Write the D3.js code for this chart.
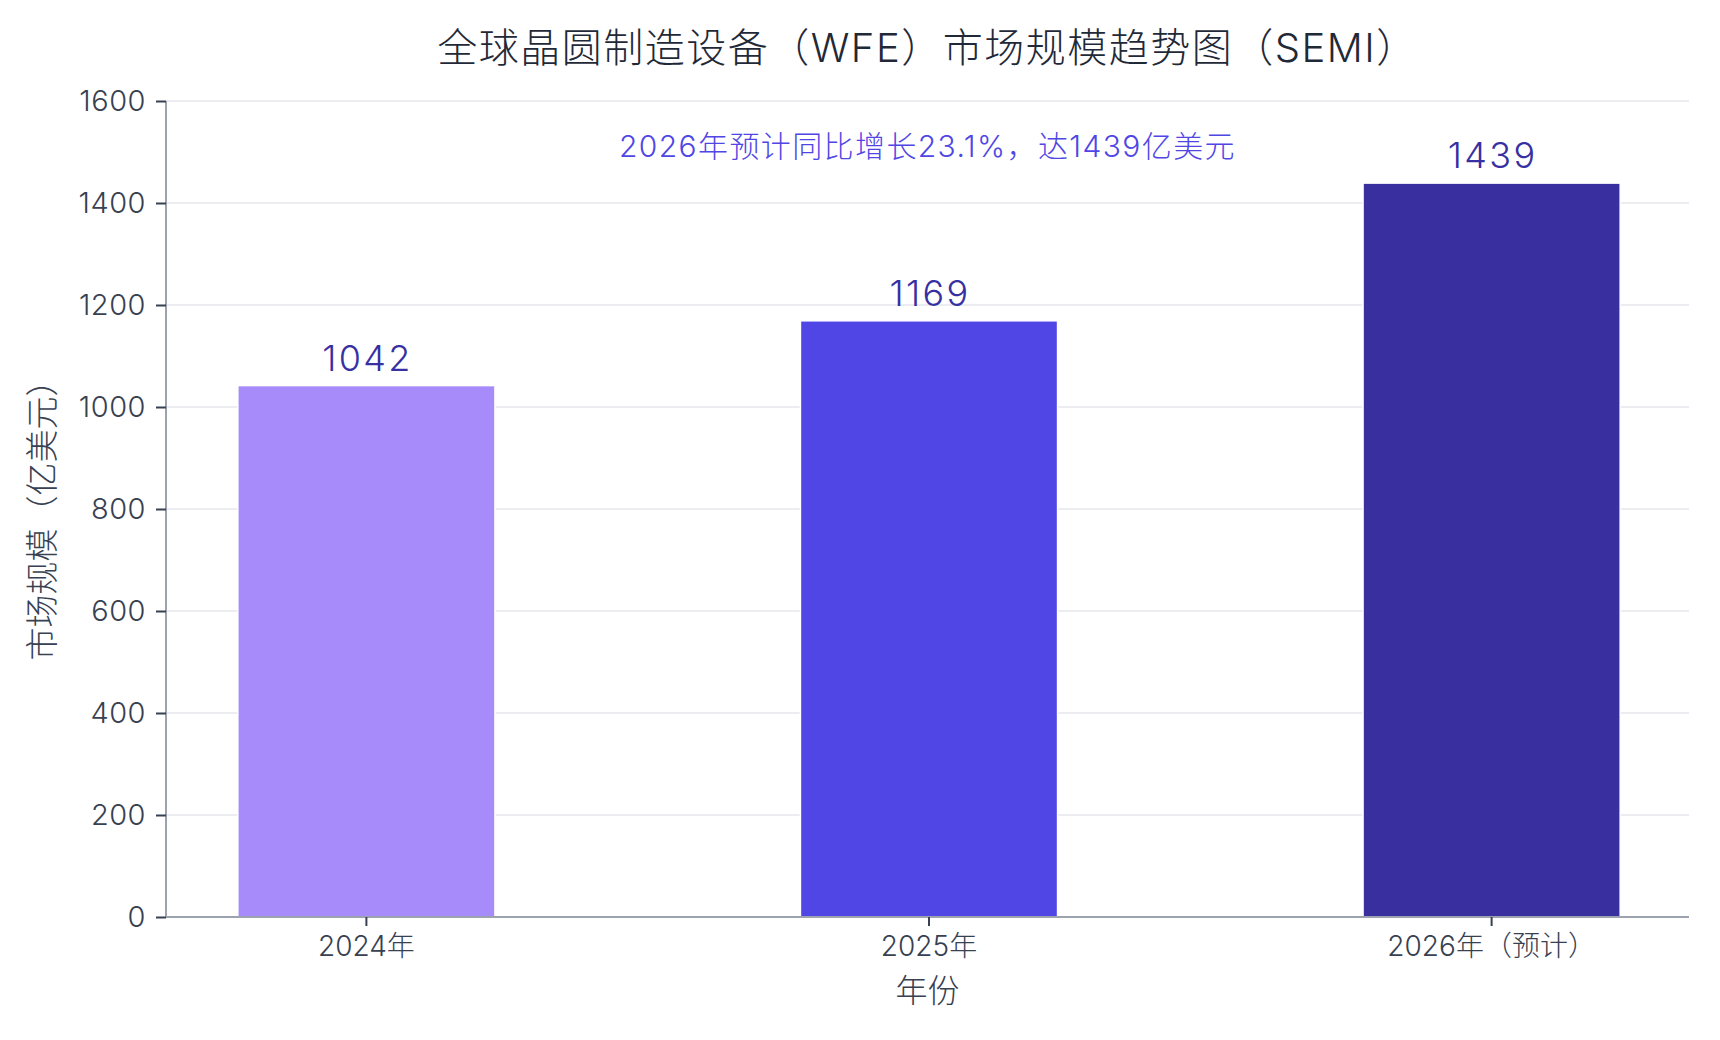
<!DOCTYPE html>
<html>
<head>
<meta charset="utf-8">
<script src="https://cdn.jsdelivr.net/npm/d3@7"></script>
<style>
  body { margin: 0; background: #fff; }
  svg text { font-family: "Inter", "Noto Sans CJK SC", sans-serif; font-weight: 300; }
</style>
</head>
<body>
<div id="chart"></div>
<script>
// data
const years = ['2024年', '2025年', '2026年（预计）'];
const values = [1042, 1169, 1439];
const barColors = ['#a78bfa', '#4f46e5', '#3a2f9e'];
const yTicks = [0, 200, 400, 600, 800, 1000, 1200, 1400, 1600];

const titleText = '全球晶圆制造设备（WFE）市场规模趋势图（SEMI）';
const noteText = '2026年预计同比增长23.1%，达1439亿美元';
const xTitle = '年份';
const yTitle = '市场规模（亿美元）';

const w = 1720;
const h = 1040;
const m = { top: 101, right: 31, bottom: 123, left: 166 };

const svg = d3.select('#chart').append('svg').attr('width', w).attr('height', h);

const x = d3.scaleBand().domain(years).range([m.left + 1.5, w - m.right + 1.5])
    .paddingInner(0.543).paddingOuter(0.125);
const y = d3.scaleLinear().domain([0, 1600]).range([h - m.bottom, m.top]);

// grid
svg.append('g').selectAll('line').data(yTicks).enter().append('line')
    .attr('x1', m.left).attr('x2', w - m.right)
    .attr('y1', d => y(d)).attr('y2', d => y(d))
    .attr('stroke', '#e5e7eb').attr('stroke-width', 1.5);

// bars
svg.append('g').selectAll('rect').data(values).enter().append('rect')
    .attr('x', (d, i) => x(years[i]))
    .attr('y', d => y(d))
    .attr('width', x.bandwidth())
    .attr('height', d => y(0) - y(d))
    .attr('fill', (d, i) => barColors[i])
    .attr('stroke', '#fff').attr('stroke-width', 1.5);

// value labels
svg.append('g').selectAll('text').data(values).enter().append('text')
    .attr('x', (d, i) => x(years[i]) + x.bandwidth() / 2 + 1)
    .attr('y', d => y(d) - 15)
    .attr('text-anchor', 'middle')
    .attr('fill', '#3730a3')
    .style('font-size', '36px')
    .style('letter-spacing', '2.3px')
    .text(d => d);

// axes
const yAxis = svg.append('g').attr('transform', `translate(${m.left},0)`)
    .call(d3.axisLeft(y).tickValues(yTicks).tickFormat(d3.format('d')).tickSize(10).tickPadding(10));
const xAxis = svg.append('g').attr('transform', `translate(0,${h - m.bottom})`)
    .call(d3.axisBottom(x).tickSize(9).tickPadding(10));

[yAxis, xAxis].forEach(a => {
    a.select('.domain').attr('stroke', '#9ca3af').attr('stroke-width', 2);
    a.selectAll('.tick line').attr('stroke', '#374151').attr('stroke-width', 2);
    a.selectAll('.tick text').attr('fill', '#374151').style('font-size', '28px');
});
yAxis.selectAll('.tick text').style('font-size', '29px').style('letter-spacing', '0.5px');
xAxis.select('.domain').attr('d', `M${m.left},0H${w - m.right}`);
yAxis.select('.domain').attr('d', `M0,${y(1600)}V${y(0)}`);

// titles
svg.append('text').attr('x', (m.left + w - m.right) / 2).attr('y', 62)
    .attr('text-anchor', 'middle').attr('fill', '#1f2937')
    .style('font-size', '40px').style('letter-spacing', '1.5px').text(titleText);

svg.append('text').attr('x', (m.left + w - m.right) / 2).attr('y', 157)
    .attr('text-anchor', 'middle').attr('fill', '#4f46e5')
    .style('font-size', '30px').style('letter-spacing', '1.4px').text(noteText);

svg.append('text').attr('x', (m.left + w - m.right) / 2).attr('y', 1002)
    .attr('text-anchor', 'middle').attr('fill', '#374151')
    .style('font-size', '32px').text(xTitle);

svg.append('text').attr('transform', `translate(54,${(m.top + h - m.bottom) / 2 + 3}) rotate(-90)`)
    .attr('text-anchor', 'middle').attr('fill', '#374151')
    .style('font-size', '33px').text(yTitle);
</script>
</body>
</html>
